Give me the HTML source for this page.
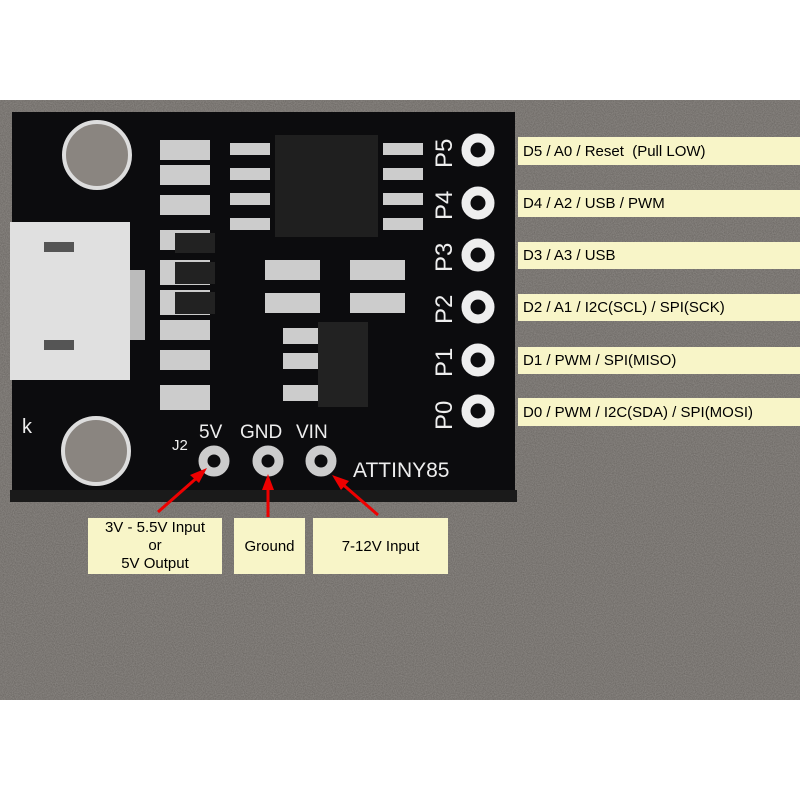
<!DOCTYPE html>
<html><head><style>
body{margin:0;width:800px;height:800px;overflow:hidden;background:#fff;font-family:"Liberation Sans",sans-serif}
.lb{position:absolute;background:#f8f5c8;font-size:15px;color:#000;display:flex;align-items:center}
</style></head><body>
<svg width="800" height="800" style="position:absolute;left:0;top:0">
<defs>
<filter id="n" x="0" y="0" width="1" height="1"><feTurbulence type="fractalNoise" baseFrequency="0.9" numOctaves="2" seed="3"/><feColorMatrix values="0 0 0 0 0.45  0 0 0 0 0.43  0 0 0 0 0.41  0 0 0 1.2 -0.2"/></filter>
<clipPath id="c"><rect x="0" y="100" width="800" height="600"/></clipPath>
</defs>
<rect x="0" y="100" width="800" height="600" fill="#6e6a66"/>
<g clip-path="url(#c)"><rect x="0" y="100" width="800" height="600" filter="url(#n)" opacity="0.5"/></g>
<rect x="12" y="112" width="503" height="390" fill="#0c0c0e"/>
<rect x="10" y="490" width="507" height="12" fill="#1a1a1a"/>
<circle cx="97" cy="155" r="33" fill="#8a8580" stroke="#ddd" stroke-width="4"/>
<circle cx="96" cy="451" r="33" fill="#8a8580" stroke="#ddd" stroke-width="4"/>
<rect x="10" y="222" width="120" height="158" fill="#e0e0e0"/>
<rect x="44" y="242" width="30" height="10" fill="#555"/>
<rect x="44" y="340" width="30" height="10" fill="#555"/>
<rect x="130" y="270" width="15" height="70" fill="#bbb"/>
<rect x="275" y="135" width="103" height="102" fill="#1f1f1f"/>
<g fill="#ccc">
<rect x="230" y="143" width="40" height="12"/><rect x="230" y="168" width="40" height="12"/><rect x="230" y="193" width="40" height="12"/><rect x="230" y="218" width="40" height="12"/>
<rect x="383" y="143" width="40" height="12"/><rect x="383" y="168" width="40" height="12"/><rect x="383" y="193" width="40" height="12"/><rect x="383" y="218" width="40" height="12"/>
<rect x="160" y="140" width="50" height="20"/><rect x="160" y="165" width="50" height="20"/><rect x="160" y="195" width="50" height="20"/>
<rect x="160" y="230" width="50" height="20"/><rect x="160" y="260" width="50" height="25"/><rect x="160" y="290" width="50" height="25"/>
<rect x="160" y="320" width="50" height="20"/><rect x="160" y="350" width="50" height="20"/><rect x="160" y="385" width="50" height="25"/>
<rect x="265" y="260" width="55" height="20"/><rect x="265" y="293" width="55" height="20"/>
<rect x="350" y="260" width="55" height="20"/><rect x="350" y="293" width="55" height="20"/>
<rect x="283" y="328" width="40" height="16"/><rect x="283" y="353" width="40" height="16"/><rect x="283" y="385" width="40" height="16"/>
</g>
<rect x="318" y="322" width="50" height="85" fill="#222"/>
<rect x="175" y="233" width="40" height="20" fill="#222"/><rect x="175" y="262" width="40" height="22" fill="#222"/><rect x="175" y="292" width="40" height="22" fill="#222"/>
<g fill="#0c0c0e" stroke="#eee" stroke-width="9">
<circle cx="478" cy="150" r="12"/><circle cx="478" cy="203" r="12"/><circle cx="478" cy="255" r="12"/>
<circle cx="478" cy="307" r="12"/><circle cx="478" cy="360" r="12"/><circle cx="478" cy="411" r="12"/>
<circle cx="214" cy="461" r="11" stroke="#ccc"/><circle cx="268" cy="461" r="11" stroke="#ccc"/><circle cx="321" cy="461" r="11" stroke="#ccc"/>
</g>
<g fill="#eee" font-family="Liberation Sans" font-size="24">
<text transform="translate(452,168) rotate(-90)">P5</text>
<text transform="translate(452,220) rotate(-90)">P4</text>
<text transform="translate(452,272) rotate(-90)">P3</text>
<text transform="translate(452,324) rotate(-90)">P2</text>
<text transform="translate(452,377) rotate(-90)">P1</text>
<text transform="translate(452,430) rotate(-90)">P0</text>
<text x="199" y="438" font-size="19">5V</text>
<text x="240" y="438" font-size="19">GND</text>
<text x="296" y="438" font-size="19">VIN</text>
<text x="172" y="450" font-size="15">J2</text>
<text x="353" y="477" font-size="21">ATTINY85</text>
<text x="22" y="433" font-size="20">k</text>
</g>
<g stroke="#e00" stroke-width="3" fill="#e00">
<line x1="158" y1="512" x2="200" y2="475"/><polygon points="207,468 190,475 199,483" stroke="none"/>
<line x1="268" y1="517" x2="268" y2="485"/><polygon points="268,474 262,490 274,490" stroke="none"/>
<line x1="378" y1="515" x2="340" y2="482"/><polygon points="332,475 341,490 349,481" stroke="none"/>
</g>
</svg>
<div class="lb" style="left:518px;top:137px;width:282px;height:28px;padding-left:5px">D5 / A0 / Reset &nbsp;(Pull LOW)</div>
<div class="lb" style="left:518px;top:190px;width:282px;height:27px;padding-left:5px">D4 / A2 / USB / PWM</div>
<div class="lb" style="left:518px;top:242px;width:282px;height:27px;padding-left:5px">D3 / A3 / USB</div>
<div class="lb" style="left:518px;top:294px;width:282px;height:27px;padding-left:5px">D2 / A1 / I2C(SCL) / SPI(SCK)</div>
<div class="lb" style="left:518px;top:347px;width:282px;height:27px;padding-left:5px">D1 / PWM / SPI(MISO)</div>
<div class="lb" style="left:518px;top:398px;width:282px;height:28px;padding-left:5px">D0 / PWM / I2C(SDA) / SPI(MOSI)</div>
<div class="lb" style="left:88px;top:518px;width:134px;height:56px;justify-content:center;text-align:center;line-height:18px">3V - 5.5V Input<br>or<br>5V Output</div>
<div class="lb" style="left:234px;top:518px;width:71px;height:56px;justify-content:center">Ground</div>
<div class="lb" style="left:313px;top:518px;width:135px;height:56px;justify-content:center">7-12V Input</div>
</body></html>
